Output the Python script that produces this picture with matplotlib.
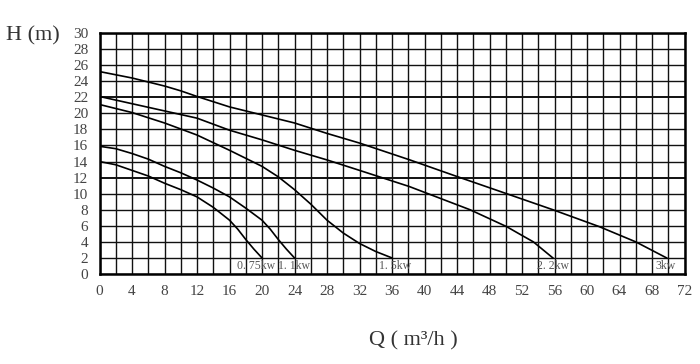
import numpy as np
import matplotlib.pyplot as plt

# ----- pump curves: Q (m3/h) vs H (m) -----
q_075 = [0, 2, 4, 6, 8, 10, 12, 14, 16, 17, 18, 19, 20]
h_075 = [14.0, 13.6, 12.9, 12.2, 11.3, 10.5, 9.6, 8.3, 6.7, 5.6, 4.3, 3.1, 2.0]

q_11 = [0, 2, 4, 6, 8, 10, 12, 14, 16, 18, 20, 21, 22, 23, 24]
h_11 = [15.9, 15.6, 15.0, 14.3, 13.4, 12.6, 11.7, 10.7, 9.6, 8.2, 6.7, 5.6, 4.3, 3.1, 2.0]

q_15 = [0, 4, 8, 12, 16, 20, 22, 24, 26, 28, 30, 32, 34, 36]
h_15 = [21.1, 20.1, 18.8, 17.3, 15.4, 13.4, 12.1, 10.5, 8.7, 6.7, 5.1, 3.8, 2.8, 2.0]

q_22 = [0, 4, 8, 12, 16, 20, 24, 28, 32, 38.1, 45.6, 50.1, 52, 53.4, 55.8]
h_22 = [22.1, 21.2, 20.3, 19.4, 17.9, 16.7, 15.4, 14.2, 12.9, 10.9, 8.0, 5.9, 4.8, 4.0, 2.0]

q_3 = [0, 4, 8, 10, 12, 16, 20, 24, 28, 32, 38.2, 44.1, 50.1, 55.8, 61.5, 66.0, 69.8]
h_3 = [25.2, 24.4, 23.4, 22.8, 22.1, 20.8, 19.8, 18.8, 17.5, 16.3, 14.2, 12.1, 10.0, 8.0, 5.9, 4.0, 2.0]

curve_labels = ["0. 75kw", "1. 1kw", "1. 5kw", "2. 2kw", "3kw"]
label_q = [19.3, 24.0, 36.4, 55.8, 69.7]

x_ticks = np.arange(0, 73, 4)
y_ticks = np.arange(0, 31, 2)

serif = ["Liberation Serif", "DejaVu Serif"]

fig = plt.figure(figsize=(7.0, 3.64), dpi=100)
ax = fig.add_axes([99.5 / 700, 1 - 274 / 364, 585 / 700, 241 / 364])

# grid every 2 units both ways
for x in np.arange(0, 73, 2):
    ax.axvline(x, color="#111111", lw=1.0, zorder=1)
for y in np.arange(0, 31, 2):
    lw = 1.4 if y in (12, 22) else 1.0
    ax.axhline(y, color="#111111", lw=lw, zorder=1)

for q, h in [(q_075, h_075), (q_11, h_11), (q_15, h_15), (q_22, h_22), (q_3, h_3)]:
    ax.plot(q, h, color="black", lw=1.2, zorder=3)

for txt, qx in zip(curve_labels, label_q):
    ax.text(qx, 0.95, txt, ha="center", va="center", fontsize=8.5,
            family=serif, color="#555555", zorder=4)

ax.set_xlim(0, 72)
ax.set_ylim(0, 30)
ax.set_xticks(x_ticks)
ax.set_yticks(y_ticks)
ax.tick_params(length=0, labelsize=11, colors="#444444")
ax.tick_params(axis="x", pad=8)
ax.tick_params(axis="y", pad=8)
for lab in ax.get_xticklabels() + ax.get_yticklabels():
    lab.set_family(serif)
for s in ax.spines.values():
    s.set_linewidth(1.8)
    s.set_color("black")

fig.text(33 / 700, 1 - 36 / 364, "H (m)", ha="center", va="center",
         fontsize=16, family=serif, color="#333333")
fig.text(413 / 700, 1 - 341 / 364, "Q ( m³/h )", ha="center", va="center",
         fontsize=16, family=serif, color="#333333")

fig.savefig("out.png", dpi=100)
